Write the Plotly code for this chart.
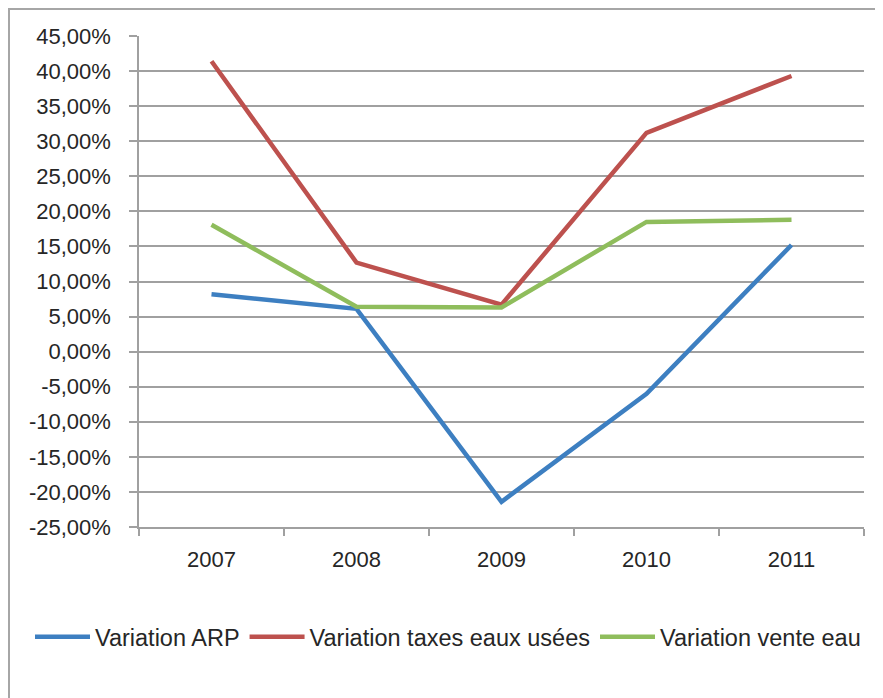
import plotly.graph_objects as go

years = ["2007", "2008", "2009", "2010", "2011"]
arp = [0.0817, 0.0610, -0.2140, -0.0600, 0.1520]
taxes = [0.4140, 0.1270, 0.0670, 0.3120, 0.3930]
vente = [0.1810, 0.0640, 0.0630, 0.1850, 0.1880]
names = ["Variation ARP", "Variation taxes eaux usées", "Variation vente eau"]
colors = ["#3d7fc1", "#bd514e", "#8fbd5c"]

y_ticks = [-0.25 + 0.05 * i for i in range(15)]
y_labels = ["-25,00%", "-20,00%", "-15,00%", "-10,00%", "-5,00%", "0,00%", "5,00%",
            "10,00%", "15,00%", "20,00%", "25,00%", "30,00%", "35,00%", "40,00%", "45,00%"]

# page body has an 8px margin, so the figure is laid out in coordinates offset by 8px
W, H = 875, 690
L, R, T, B = 131, 19, 28, 171
pw, ph = W - L - R, H - T - B

fig = go.Figure()
for vals, name, c in zip([arp, taxes, vente], names, colors):
    fig.add_trace(go.Scatter(x=years, y=vals, mode="lines", name=name,
                             line=dict(color=c, width=4.5)))

font = dict(family="Liberation Sans, Arial, sans-serif", size=22, color="#262626")
lfont = dict(family="Liberation Sans, Arial, sans-serif", size=23.5, color="#262626")

def px(x):
    return (x - L) / pw
def py(y):
    return 1 - (y - T) / ph

# outer chart frame (left and top edges visible)
fig.add_shape(type="rect", xref="paper", yref="paper",
              x0=px(1), x1=px(900), y0=py(1), y1=py(720),
              line=dict(color="#a6a6a6", width=2), layer="below")

fig.update_layout(
    width=W, height=H,
    margin=dict(l=L, r=R, t=T, b=B, autoexpand=False),
    paper_bgcolor="white", plot_bgcolor="white",
    font=font,
    showlegend=True,
    legend=dict(orientation="h", x=px(22), xanchor="left", y=py(629), yanchor="middle",
                font=lfont, itemwidth=55, tracegroupgap=0, traceorder="normal",
                bgcolor="rgba(0,0,0,0)"),
)
fig.update_xaxes(type="category", range=[-0.5, 4.5], tickson="boundaries",
                 ticks="outside", ticklen=7, tickcolor="#a0a0a0", tickwidth=1.5,
                 showline=True, linecolor="#a0a0a0", linewidth=1.5, automargin=False,
                 showgrid=False, ticklabelstandoff=12, tickfont=font)
fig.update_yaxes(range=[-0.25, 0.45], tickvals=y_ticks, ticktext=y_labels,
                 ticks="outside", ticklen=8, tickcolor="#a0a0a0", tickwidth=1.5,
                 showline=True, linecolor="#a0a0a0", linewidth=1.5, automargin=False,
                 showgrid=True, gridcolor="#a0a0a0", gridwidth=1.5,
                 zeroline=False, ticklabelstandoff=14, tickfont=font)

fig.write_html("out.html")
